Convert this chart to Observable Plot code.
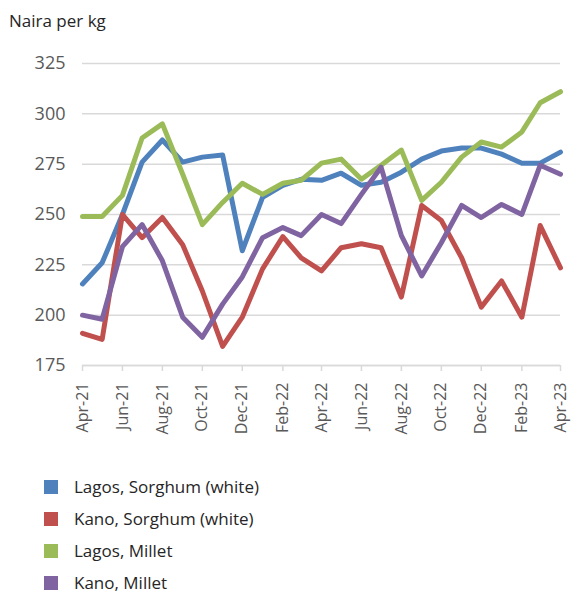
<!DOCTYPE html>
<html><head><meta charset="utf-8">
<script src="https://cdn.jsdelivr.net/npm/d3@7"></script>
<script src="https://cdn.jsdelivr.net/npm/@observablehq/plot@0.6"></script>
<style>
body{margin:0;background:#fff;font-family:"Open Sans",sans-serif;}
#title{height:40px;box-sizing:border-box;padding:10px 0 0 9px;font-size:17px;line-height:22px;color:#262626;}
#chart{height:420px;}
#legend{padding:11px 0 0 44px;}
.row{height:32px;display:flex;align-items:center;font-size:17px;line-height:22px;color:#262626;}
.sw{width:14px;height:14px;margin-right:16px;}
</style></head><body>
<div id="title">Naira per kg</div>
<div id="chart"></div>
<div id="legend"></div>
<script>
const months = ["2021-04","2021-05","2021-06","2021-07","2021-08","2021-09","2021-10","2021-11","2021-12",
  "2022-01","2022-02","2022-03","2022-04","2022-05","2022-06","2022-07","2022-08","2022-09","2022-10","2022-11","2022-12",
  "2023-01","2023-02","2023-03","2023-04"];
const seriesNames = ["Lagos, Sorghum (white)","Kano, Sorghum (white)","Lagos, Millet","Kano, Millet"];
const seriesColors = ["#4F81BD","#C0504D","#9BBB59","#8064A2"];
const lagosSorghum = [215.5,226,250,276,287,276,278.5,279.5,232,258.5,264.5,267.5,267,270.5,264.5,266,271,277.5,281.5,283,283,280,275.5,275.5,281];
const kanoSorghum  = [191,188,250,238.5,248.5,235,212,184.5,199,223,239,228.5,222,233.5,235.5,233.5,209,254.5,247,228.5,204,217,199,244.5,223.5];
const lagosMillet  = [249,249,259.5,288,295,270,245,256,265.5,260,265.5,267,275.5,277.5,267.5,274.5,282,257,266,278.5,286,283.5,291,305.5,311];
const kanoMillet   = [200,198,234,245,227,199,189,205.5,219,238.5,243.5,239.5,250,245.5,260,273.5,239.5,219.5,236,254.5,248.5,255,250,274.5,270];
const yTicks = [175,200,225,250,275,300,325];

const allSeries = [lagosSorghum, kanoSorghum, lagosMillet, kanoMillet];
const parse = d3.utcParse("%Y-%m");
const data = [];
allSeries.forEach((vals, s) => vals.forEach((v, i) => data.push({date: parse(months[i]), value: v, series: seriesNames[s]})));
const tickDates = months.filter((m, i) => i % 2 === 0).map(parse);

const chart = Plot.plot({
  width: 572,
  height: 420,
  marginTop: 23,
  marginBottom: 95,
  marginLeft: 82,
  marginRight: 12,
  style: {fontFamily: "Open Sans, sans-serif", background: "#fff", overflow: "visible"},
  x: {type: "utc", domain: [parse(months[0]), parse(months[months.length-1])], label: null},
  y: {domain: [175, 325], label: null},
  color: {domain: seriesNames, range: seriesColors},
  marks: [
    Plot.gridY(yTicks, {stroke: "#d9d9d9", strokeOpacity: 1, strokeWidth: 1.5}),
    Plot.axisY(yTicks, {tickSize: 0, tickPadding: 17, fontSize: 18, fill: "#595959", label: null}),
    Plot.ruleY([175], {stroke: "#d9d9d9", strokeWidth: 1.5}),
    Plot.axisX(tickDates, {tickSize: 6, stroke: "#d9d9d9", strokeWidth: 1.5, tickPadding: 11, tickRotate: -90, tickFormat: d3.utcFormat("%b-%y"), fontSize: 16, fill: "#595959", label: null}),
    Plot.line(data, {x: "date", y: "value", z: "series", stroke: "series", strokeWidth: 5, strokeLinejoin: "round"})
  ]
});
document.getElementById("chart").appendChild(chart);

const legend = document.getElementById("legend");
seriesNames.forEach((n, i) => {
  const r = document.createElement("div"); r.className = "row";
  const sw = document.createElement("div"); sw.className = "sw"; sw.style.background = seriesColors[i];
  const t = document.createElement("span"); t.textContent = n;
  r.appendChild(sw); r.appendChild(t); legend.appendChild(r);
});
</script>
</body></html>
